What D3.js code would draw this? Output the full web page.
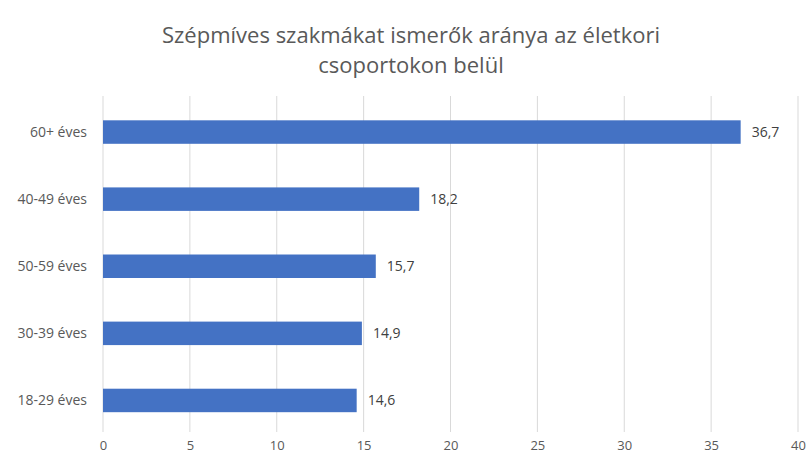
<!DOCTYPE html>
<html><head><meta charset="utf-8">
<script src="https://cdn.jsdelivr.net/npm/d3@7"></script>
<style>body{margin:0;background:#fff;}svg{display:block;}</style>
</head><body>
<svg id="c" width="810" height="463"></svg>
<script>
const categories = ["60+ éves","40-49 éves","50-59 éves","30-39 éves","18-29 éves"];
const values = [36.7,18.2,15.7,14.9,14.6];
const valueLabels = ["36,7","18,2","15,7","14,9","14,6"];
const xTicks = [0,5,10,15,20,25,30,35,40];
const titleLines = ["Szépmíves szakmákat ismerők aránya az életkori","csoportokon belül"];

const svg = d3.select("#c");
const font = "'Open Sans', 'Noto Sans', sans-serif";
const x = d3.scaleLinear().domain([0,40]).range([103,798]);
const y = d3.scaleBand().domain(categories).range([98.5,434]).paddingInner(0.65).paddingOuter(0.325);

// grid
svg.append("g").selectAll("line").data(xTicks).join("line")
  .attr("x1",d=>x(d)).attr("x2",d=>x(d)).attr("y1",96).attr("y2",432)
  .attr("stroke","#d9d9d9").attr("stroke-width",1);

// bars
svg.append("g").selectAll("rect").data(categories).join("rect")
  .attr("x",x(0)).attr("y",d=>y(d)).attr("width",(d,i)=>x(values[i])-x(0)).attr("height",y.bandwidth())
  .attr("fill","#4472C4");

// value labels
svg.append("g").selectAll("text").data(categories).join("text")
  .attr("x",(d,i)=>x(values[i])+11).attr("y",d=>y(d)+y.bandwidth()/2).attr("dy","0.35em")
  .attr("font-family",font).attr("font-size",14).attr("fill","#404040")
  .text((d,i)=>valueLabels[i]);

// y axis labels
const yAxis = d3.axisLeft(y).tickSize(0).tickPadding(0);
const gy = svg.append("g").attr("transform","translate(87,0)").call(yAxis);
gy.select(".domain").remove();
gy.selectAll("text").attr("font-family",font).attr("font-size",14).attr("fill","#595959");

// x axis
const xAxis = d3.axisBottom(x).tickValues(xTicks).tickSize(0).tickPadding(0);
const gx = svg.append("g").attr("transform","translate(0,441)").call(xAxis);
gx.select(".domain").remove();
gx.selectAll("text").attr("font-family",font).attr("font-size",13).attr("fill","#595959");

// title
svg.append("g").selectAll("text").data(titleLines).join("text")
  .attr("x",411).attr("y",(d,i)=>43+i*30).attr("text-anchor","middle")
  .attr("font-family",font).attr("font-size",22).attr("fill","#595959")
  .text(d=>d);
</script>
</body></html>
